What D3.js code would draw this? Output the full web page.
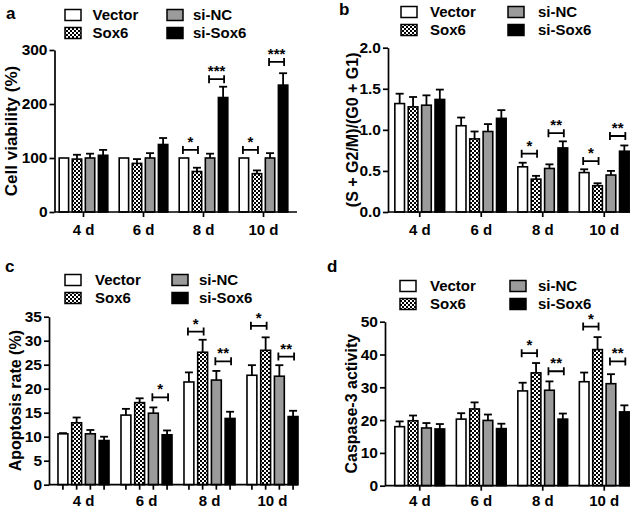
<!DOCTYPE html>
<html><head><meta charset="utf-8">
<script src="https://cdn.jsdelivr.net/npm/d3@7"></script>
<style>
html,body{margin:0;padding:0;background:#fff;}
svg{display:block;}
text{font-family:"Liberation Sans",Arial,sans-serif;font-weight:bold;fill:#000;}
</style></head>
<body>
<div id="chart"></div>
<script>
// ---------- data ----------
const categories = ["4 d", "6 d", "8 d", "10 d"];
const series = ["Vector", "Sox6", "si-NC", "si-Sox6"];

// panel a: cell viability (%)  [category][series]
const viabilityMeans = [[100, 98, 100, 105], [100, 90, 100, 125], [100, 75, 100, 212], [100, 71, 100, 235]];
const viabilityErrors = [[0, 8, 8, 10], [0, 8, 9, 12], [0, 7, 8, 20], [0, 6, 9, 22]];
const viabilityTicks = [0, 100, 200, 300];
const viabilitySig = [
  {cat: "8 d", from: 0, to: 1, y: 115, label: "*"},
  {cat: "8 d", from: 2, to: 3, y: 246, label: "***"},
  {cat: "10 d", from: 0, to: 1, y: 115, label: "*"},
  {cat: "10 d", from: 2, to: 3, y: 278, label: "***"}
];

// panel b: (S + G2/M)/(G0 + G1)
const cycleMeans = [[1.32, 1.28, 1.30, 1.37], [1.05, 0.89, 0.98, 1.14], [0.55, 0.40, 0.53, 0.78], [0.48, 0.32, 0.45, 0.74]];
const cycleErrors = [[0.12, 0.12, 0.12, 0.12], [0.10, 0.09, 0.09, 0.10], [0.05, 0.04, 0.05, 0.08], [0.04, 0.03, 0.05, 0.07]];
const cycleTicks = [0, 0.5, 1.0, 1.5, 2.0];
const cycleSig = [
  {cat: "8 d", from: 0, to: 1, y: 0.71, label: "*"},
  {cat: "8 d", from: 2, to: 3, y: 0.96, label: "**"},
  {cat: "10 d", from: 0, to: 1, y: 0.62, label: "*"},
  {cat: "10 d", from: 2, to: 3, y: 0.925, label: "**"}
];

// panel c: apoptosis rate (%)
const apoptosisMeans = [[10.6, 12.9, 10.6, 9.2], [14.5, 17.1, 14.9, 10.4], [21.4, 27.6, 21.8, 13.8], [22.8, 28.0, 22.6, 14.2]];
const apoptosisErrors = [[0.15, 1.1, 0.8, 0.8], [1.3, 0.9, 1.2, 0.9], [2.0, 2.6, 1.9, 1.4], [2.1, 2.7, 2.3, 1.2]];
const apoptosisTicks = [0, 5, 10, 15, 20, 25, 30, 35];
const apoptosisSig = [
  {cat: "6 d", from: 2, to: 3, y: 18.2, label: "*"},
  {cat: "8 d", from: 0, to: 1, y: 31.9, label: "*"},
  {cat: "8 d", from: 2, to: 3, y: 25.7, label: "**"},
  {cat: "10 d", from: 0, to: 1, y: 33.1, label: "*"},
  {cat: "10 d", from: 2, to: 3, y: 26.7, label: "**"}
];

// panel d: caspase-3 activity
const caspaseMeans = [[18.0, 19.8, 17.6, 17.3], [20.3, 23.4, 19.9, 17.4], [28.9, 34.4, 29.1, 20.3], [31.7, 41.5, 31.1, 22.5]];
const caspaseErrors = [[1.6, 1.6, 1.5, 1.5], [1.8, 2.0, 1.8, 1.5], [2.5, 3.0, 2.7, 1.7], [2.8, 3.8, 2.9, 2.0]];
const caspaseTicks = [0, 10, 20, 30, 40, 50];
const caspaseSig = [
  {cat: "8 d", from: 0, to: 1, y: 40.4, label: "*"},
  {cat: "8 d", from: 2, to: 3, y: 34.9, label: "**"},
  {cat: "10 d", from: 0, to: 1, y: 48.5, label: "*"},
  {cat: "10 d", from: 2, to: 3, y: 37.9, label: "**"}
];

// ---------- layout ----------
const W = 638, H = 508;
const svg = d3.select("#chart").append("svg").attr("width", W).attr("height", H);

const defs = svg.append("defs");
const pat = defs.append("pattern").attr("id", "checker").attr("patternUnits", "userSpaceOnUse")
  .attr("width", 4).attr("height", 4);
pat.append("rect").attr("width", 4).attr("height", 4).attr("fill", "#fff");
pat.append("rect").attr("x", 0).attr("y", 0).attr("width", 2).attr("height", 2).attr("fill", "#000");
pat.append("rect").attr("x", 2).attr("y", 2).attr("width", 2).attr("height", 2).attr("fill", "#000");

const fills = ["#ffffff", "url(#checker)", "#9b9b9b", "#000000"];

const panels = [
  {letter: "a", lx: 6, ly: 19, means: viabilityMeans, errors: viabilityErrors, ticks: viabilityTicks, fmt: d3.format("d"),
   sig: viabilitySig, title: "Cell viability (%)", titleSize: 17, titleX: 11, axisX: 54.5, yTop: 50, yBot: 212, axisEnd: 297,
   bands: [53.5, 293.5], legRows: [15, 33], legCols: [[65, 92.5], [167, 193]], barTicks: false, labelDy: 23},
  {letter: "b", lx: 339, ly: 15, means: cycleMeans, errors: cycleErrors, ticks: cycleTicks, fmt: d3.format(".1f"),
   sig: cycleSig, title: "(S + G2/M)/(G0 + G1)", titleSize: 16, titleX: 352, axisX: 388, yTop: 47.7, yBot: 212, axisEnd: 630,
   bands: [389, 635], legRows: [12, 30], legCols: [[401, 430], [508, 538]], barTicks: false, labelDy: 23},
  {letter: "c", lx: 5, ly: 272, means: apoptosisMeans, errors: apoptosisErrors, ticks: apoptosisTicks, fmt: d3.format("d"),
   sig: apoptosisSig, title: "Apoptosis rate (%)", titleSize: 16, titleX: 15, axisX: 49, yTop: 316.7, yBot: 484.7, axisEnd: 298,
   bands: [52, 304], legRows: [280, 298], legCols: [[65, 95], [172, 199]], barTicks: true, labelDy: 21},
  {letter: "d", lx: 327, ly: 272, means: caspaseMeans, errors: caspaseErrors, ticks: caspaseTicks, fmt: d3.format("d"),
   sig: caspaseSig, title: "Caspase-3 activity", titleSize: 16, titleX: 351, axisX: 385, yTop: 321.7, yBot: 485.7, axisEnd: 630,
   bands: [389, 635], legRows: [286, 304], legCols: [[400, 430], [510, 538]], barTicks: false, labelDy: 20}
];

panels.forEach(p => {
  const g = svg.append("g");
  const yMax = p.ticks[p.ticks.length - 1];
  const y = d3.scaleLinear().domain([0, yMax]).range([p.yBot, p.yTop]);
  const x0 = d3.scaleBand().domain(categories).range(p.bands).padding(0);
  const groupW = x0.bandwidth() * 0.81;
  const x1 = d3.scaleBand().domain(series).range([0, groupW]).paddingInner(0.28);
  const barX = (c, s) => x0(c) + (x0.bandwidth() - groupW) / 2 + x1(s);
  const barC = (c, s) => barX(c, s) + x1.bandwidth() / 2;

  // panel letter
  g.append("text").attr("x", p.lx).attr("y", p.ly).style("font-size", "17px").text(p.letter);

  // legend
  series.forEach((s, i) => {
    const col = p.legCols[Math.floor(i / 2)];
    const ry = p.legRows[i % 2];
    g.append("rect").attr("x", col[0]).attr("y", ry - 5.5).attr("width", 16).attr("height", 11)
      .attr("fill", fills[i]).attr("stroke", "#000").attr("stroke-width", 1.5);
    g.append("text").attr("x", col[1]).attr("y", ry).attr("dy", "0.36em").style("font-size", "15px").text(s);
  });

  // y axis
  const yAxis = d3.axisLeft(y).tickValues(p.ticks).tickFormat(p.fmt).tickSize(5).tickPadding(2).tickSizeOuter(0);
  const ya = g.append("g").attr("transform", `translate(${p.axisX},0)`).call(yAxis);
  ya.select(".domain").attr("stroke-width", 1.7);
  ya.selectAll(".tick line").attr("stroke-width", 1.7);
  ya.selectAll(".tick text").style("font-size", "15.5px").style("font-family", "'Liberation Sans',Arial,sans-serif").style("font-weight", "bold");

  // y title
  g.append("text").attr("transform", `translate(${p.titleX},${(p.yTop + p.yBot) / 2}) rotate(-90)`)
    .attr("text-anchor", "middle").attr("dy", "0.36em").style("font-size", p.titleSize + "px").text(p.title);

  // bars
  categories.forEach((c, ci) => {
    series.forEach((s, si) => {
      const v = p.means[ci][si];
      const e = p.errors[ci][si];
      const bx = barX(c, s), bw = x1.bandwidth();
      if (e > 0) {
        g.append("line").attr("x1", bx + bw / 2).attr("x2", bx + bw / 2).attr("y1", y(v)).attr("y2", y(v + e))
          .attr("stroke", "#000").attr("stroke-width", 1.8);
        g.append("line").attr("x1", bx + bw / 2 - 4).attr("x2", bx + bw / 2 + 4).attr("y1", y(v + e)).attr("y2", y(v + e))
          .attr("stroke", "#000").attr("stroke-width", 1.8);
      }
      g.append("rect").attr("x", bx).attr("y", y(v)).attr("width", bw).attr("height", y(0) - y(v))
        .attr("fill", fills[si]).attr("stroke", "#000").attr("stroke-width", 1.6);
    });
  });

  // x axis
  g.append("line").attr("x1", p.axisX).attr("x2", p.axisEnd).attr("y1", y(0)).attr("y2", y(0))
    .attr("stroke", "#000").attr("stroke-width", 1.7);
  categories.forEach(c => {
    const cx = x0(c) + x0.bandwidth() / 2;
    const tickXs = p.barTicks ? series.map(s => barC(c, s)) : [cx];
    tickXs.forEach(tx => {
      g.append("line").attr("x1", tx).attr("x2", tx).attr("y1", y(0)).attr("y2", y(0) + 5)
        .attr("stroke", "#000").attr("stroke-width", 1.7);
    });
    g.append("text").attr("x", cx).attr("y", y(0) + p.labelDy).attr("text-anchor", "middle").style("font-size", "15px").text(c);
  });

  // significance brackets
  p.sig.forEach(sg => {
    const xa = barC(sg.cat, series[sg.from]) - 1, xb = barC(sg.cat, series[sg.to]) + 1;
    const yy = y(sg.y);
    g.append("path").attr("d", `M${xa},${yy - 4}V${yy + 4}M${xa},${yy}H${xb}M${xb},${yy - 4}V${yy + 4}`)
      .attr("fill", "none").attr("stroke", "#000").attr("stroke-width", 1.8);
    g.append("text").attr("x", (xa + xb) / 2).attr("y", yy - 3).attr("text-anchor", "middle")
      .style("font-size", "15px").text(sg.label);
  });
});
</script>
</body></html>
